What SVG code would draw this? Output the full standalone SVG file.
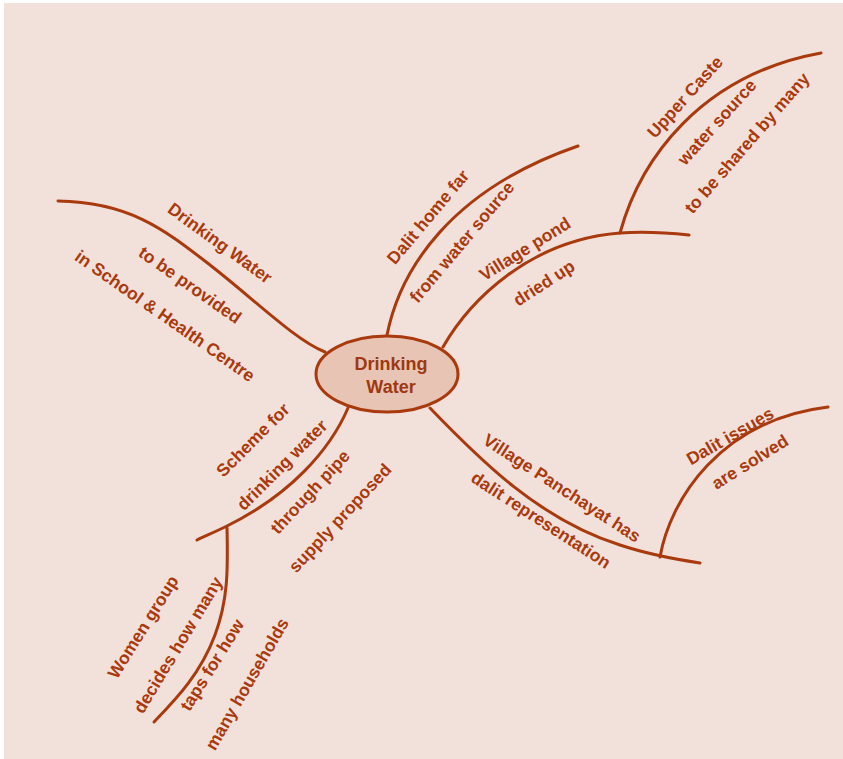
<svg xmlns="http://www.w3.org/2000/svg" width="843" height="759" viewBox="0 0 843 759">
<style>
.bg{fill:#f2e0db}
.ln{fill:none;stroke:#a83a0e;stroke-width:3;stroke-linecap:round}
.t{font-family:"Liberation Sans",Arial,sans-serif;font-weight:bold;font-size:17.5px;fill:#a83a0e;text-anchor:middle;dominant-baseline:central}
.c{font-size:18px;fill:#9e3810}
.node{fill:#e8c4b5;stroke:#a83a0e;stroke-width:3}
</style>
<rect width="843" height="759" fill="#ffffff"/>
<rect class="bg" x="4" y="3" width="839" height="756"/>
<g id="connectors">
<path class="ln" d="M58,201 C130,202 165,230 210,265 C255,300 295,340 325,352"/>
<path class="ln" d="M387,335 C400,270 450,190 578,146"/>
<path class="ln" d="M443,347 C470,300 530,240 620,233 C650,231 670,233 689,235"/>
<path class="ln" d="M620,233 C640,160 700,75 821,53"/>
<path class="ln" d="M430,408 C480,460 540,520 620,545 C650,555 680,560 700,563"/>
<path class="ln" d="M660,557 C670,500 720,420 828,407"/>
<path class="ln" d="M348,408 C330,450 290,495 227,526 C215,532 205,536 197,540"/>
<path class="ln" d="M227,528 C228,570 228,600 215,635 C200,675 175,700 154,722"/>
</g>
<g id="center">
<ellipse class="node" cx="387" cy="374" rx="71" ry="38"/>
<text class="t c" x="391" y="364">Drinking</text>
<text class="t c" x="391" y="387">Water</text>
</g>
<g id="school">
<text class="t" transform="translate(220,243) rotate(36)">Drinking Water</text>
<text class="t" transform="translate(190,285) rotate(35)">to be provided</text>
<text class="t" transform="translate(165,316) rotate(35)">in School &amp; Health Centre</text>
</g>
<g id="dalit-home">
<text class="t" transform="translate(428,217) rotate(-50)">Dalit home far</text>
<text class="t" transform="translate(462,242) rotate(-50)">from  water source</text>
</g>
<g id="pond">
<text class="t" transform="translate(525,249) rotate(-32)">Village pond</text>
<text class="t" transform="translate(544,283) rotate(-33)">dried up</text>
</g>
<g id="upper-caste">
<text class="t" transform="translate(685,97) rotate(-48)">Upper Caste</text>
<text class="t" transform="translate(717,122) rotate(-48)">water source</text>
<text class="t" transform="translate(747,143) rotate(-49)">to be shared by many</text>
</g>
<g id="panchayat">
<text class="t" transform="translate(562,488) rotate(33)">Village Panchayat has</text>
<text class="t" transform="translate(541,520) rotate(33)">dalit representation</text>
</g>
<g id="dalit-issues">
<text class="t" transform="translate(730,436) rotate(-30)">Dalit issues</text>
<text class="t" transform="translate(750,462) rotate(-32)">are solved</text>
</g>
<g id="scheme">
<text class="t" transform="translate(253,440) rotate(-45)">Scheme for</text>
<text class="t" transform="translate(282,465) rotate(-45)">drinking water</text>
<text class="t" transform="translate(310,492) rotate(-47)">through pipe</text>
<text class="t" transform="translate(340,518) rotate(-47)">supply proposed</text>
</g>
<g id="women">
<text class="t" transform="translate(143,627) rotate(-58)">Women group</text>
<text class="t" transform="translate(178,645) rotate(-59)">decides how many</text>
<text class="t" transform="translate(212,665) rotate(-58)">taps for how</text>
<text class="t" transform="translate(247,684) rotate(-60)">many households</text>
</g>
</svg>
